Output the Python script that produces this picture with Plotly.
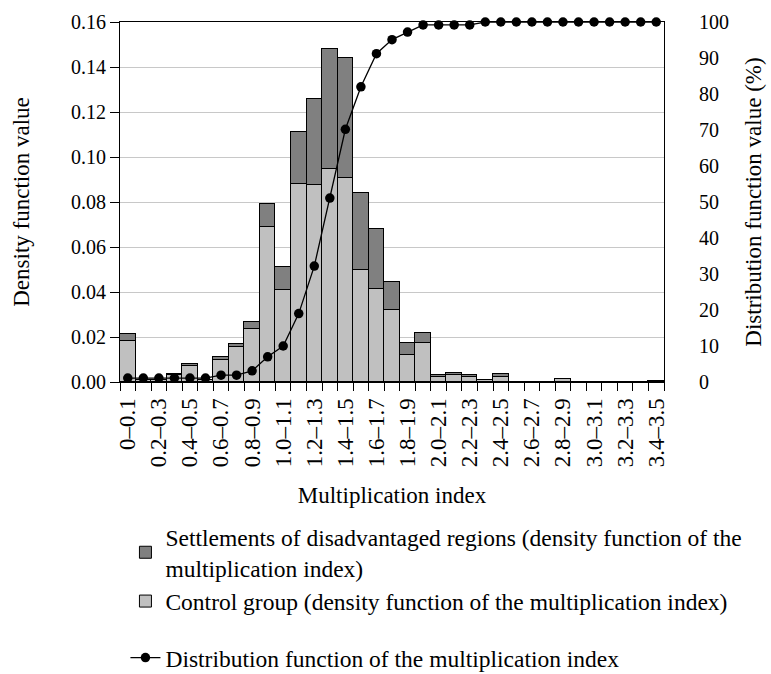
import plotly.graph_objects as go

categories = ["0–0.1", "0.1–0.2", "0.2–0.3", "0.3–0.4", "0.4–0.5", "0.5–0.6", "0.6–0.7",
              "0.7–0.8", "0.8–0.9", "0.9–1.0", "1.0–1.1", "1.1–1.2", "1.2–1.3", "1.3–1.4",
              "1.4–1.5", "1.5–1.6", "1.6–1.7", "1.7–1.8", "1.8–1.9", "1.9–2.0", "2.0–2.1",
              "2.1–2.2", "2.2–2.3", "2.3–2.4", "2.4–2.5", "2.5–2.6", "2.6–2.7", "2.7–2.8",
              "2.8–2.9", "2.9–3.0", "3.0–3.1", "3.1–3.2", "3.2–3.3", "3.3–3.4", "3.4–3.5"]

control_density = [0.0182, 0.0010, 0.0010, 0.0030, 0.0070, 0.0007, 0.0096, 0.0156, 0.0237,
                   0.0690, 0.0408, 0.0882, 0.0875, 0.0946, 0.0908, 0.0500, 0.0415, 0.0322,
                   0.0120, 0.0175, 0.0021, 0.0032, 0.0024, 0.0007, 0.0024, 0.0, 0.0, 0.0,
                   0.0014, 0.0, 0.0, 0.0, 0.0, 0.0, 0.0006]

disadvantaged_density = [0.0033, 0.0, 0.0, 0.0004, 0.0011, 0.0, 0.0014, 0.0015, 0.0030,
                         0.0100, 0.0101, 0.0228, 0.0384, 0.0533, 0.0533, 0.0341, 0.0267, 0.0123,
                         0.0055, 0.0044, 0.0011, 0.0006, 0.0006, 0.0, 0.0012, 0.0, 0.0, 0.0,
                         0.0, 0.0, 0.0, 0.0, 0.0, 0.0, 0.0]

distribution_pct = [1.1, 1.1, 1.1, 1.1, 1.1, 1.1, 1.9, 1.9, 3.1, 7.0, 10.0, 19.0, 32.2, 51.1,
                    70.2, 82.0, 91.2, 95.1, 97.2, 99.2, 99.2, 99.2, 99.2, 100, 100, 100, 100,
                    100, 100, 100, 100, 100, 100, 100, 100]

tick_text = [c if i % 2 == 0 else "" for i, c in enumerate(categories)]

FONT = "Liberation Serif"

fig = go.Figure()
fig.add_trace(go.Bar(
    x=categories, y=control_density,
    name="Control group (density function of the multiplication index)",
    marker=dict(color="#c0c0c0", line=dict(color="black", width=1)),
    legend="legend", legendrank=2,
))
fig.add_trace(go.Bar(
    x=categories, y=disadvantaged_density,
    name="Settlements of disadvantaged regions (density function of the<br>multiplication index)",
    marker=dict(color="#808080", line=dict(color="black", width=1)),
    legend="legend", legendrank=1,
))
fig.add_trace(go.Scatter(
    x=categories, y=distribution_pct, yaxis="y2",
    mode="lines+markers",
    name="Distribution function of the multiplication index",
    line=dict(color="black", width=1.3),
    marker=dict(color="black", size=9.5, symbol="circle"),
    legend="legend2", cliponaxis=False,
))

fig.update_layout(
    width=771, height=674,
    margin=dict(l=120, r=107, t=22, b=292, autoexpand=False),
    paper_bgcolor="white", plot_bgcolor="white",
    font=dict(family=FONT, size=20, color="black"),
    barmode="stack", bargap=0,
    xaxis=dict(
        type="category", automargin=False,
        range=[-0.5, len(categories) - 0.5],
        tickmode="array", tickvals=categories, ticktext=tick_text,
        tickangle=-90, tickson="boundaries",
        ticks="outside", ticklen=8, tickcolor="black",
        ticklabelstandoff=6,
        showline=True, linecolor="black", linewidth=1, mirror=True,
        showgrid=False,
        title=dict(text="Multiplication index", standoff=20, font=dict(family=FONT, size=23)),
        tickfont=dict(size=23),
    ),
    yaxis=dict(
        automargin=False,
        range=[0, 0.16], dtick=0.02, tickformat=".2f",
        ticks="outside", ticklen=9, tickcolor="black",
        showline=True, linecolor="black", linewidth=1,
        showgrid=True, gridcolor="#c8c8c8", gridwidth=1,
        zeroline=False,
        title=dict(text="Density function value", standoff=34, font=dict(family=FONT, size=23)),
    ),
    yaxis2=dict(
        automargin=False,
        overlaying="y", side="right",
        range=[0, 100], dtick=10,
        showline=True, linecolor="black", linewidth=1,
        showgrid=False, zeroline=False,
        ticks="outside", ticklen=30, tickcolor="rgba(0,0,0,0)",
        title=dict(text="Distribution function value (%)", standoff=16, font=dict(family=FONT, size=23)),
    ),
    legend=dict(
        x=0.01, xanchor="left", y=-0.37, yanchor="top",
        traceorder="normal", bgcolor="rgba(0,0,0,0)",
        font=dict(size=23.5), tracegroupgap=0, itemwidth=30,
    ),
    legend2=dict(
        x=0.01, xanchor="left", y=-0.705, yanchor="top",
        bgcolor="rgba(0,0,0,0)", font=dict(size=23.5), itemwidth=30,
    ),
    showlegend=True,
)

fig.write_html("out.html")
